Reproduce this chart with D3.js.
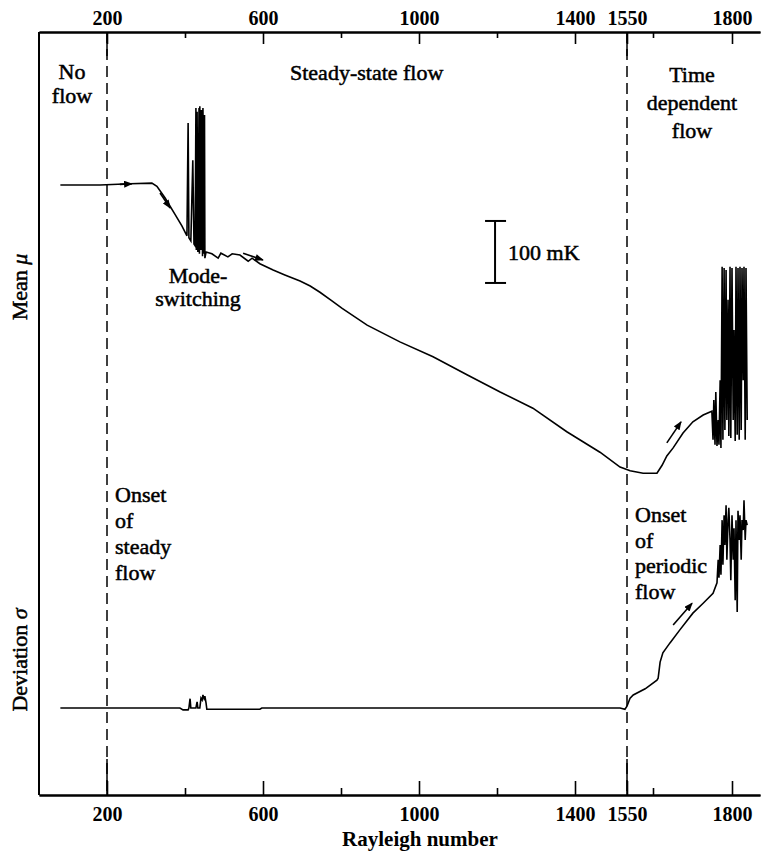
<!DOCTYPE html>
<html>
<head>
<meta charset="utf-8">
<script src="https://cdn.jsdelivr.net/npm/d3@7"></script>
<style>
body { margin: 0; background: #fff; }
text { font-family: "Liberation Serif", "DejaVu Serif", serif; fill: #000; }
</style>
</head>
<body>
<script>
var width = 766, height = 853;

// Rayleigh number ticks
var majorTicks = [200, 600, 1000, 1400, 1550, 1800];
var minorTicks = [400, 800, 1200, 1600];
var regimeBounds = [200, 1550];

// mean temperature mu (mK, relative to no-flow level)
var muRa = [80, 182, 259, 315, 328, 349, 374, 392, 405, 408, 410, 415, 420, 423, 426,
  428, 429, 431, 433, 436, 437, 438, 441, 442, 445, 446, 449, 450, 451, 454,
  469, 485, 492, 510, 521, 541, 562, 572, 592, 626, 656, 695, 721, 746, 775, 803, 867,
  951, 1036, 1123, 1208, 1292, 1379, 1472, 1530, 1556, 1581, 1610, 1623, 1635, 1651,
  1676, 1701, 1727, 1749,
  1752, 1754, 1757, 1759, 1762, 1765, 1767, 1770, 1772, 1775, 1777, 1780, 1782, 1785,
  1787, 1790, 1792, 1795, 1797, 1800, 1803, 1805, 1808, 1810, 1813, 1815, 1818, 1820,
  1823, 1825, 1828, 1830, 1833, 1835, 1838];
var muVal = [0, 0, 2, 3, -2, -21, -47, -66, -82, 100, -85, -90, 40, -95, -98,
  124, -105, 118, -108, 124, -111, 127, -105, 121, -115, 124, -111, 113, -118, -108,
  -111, -118, -110, -116, -111, -113, -123, -118, -127, -137, -145, -155, -163, -173, -186, -199, -226,
  -253, -277, -306, -334, -360, -398, -431, -455, -461, -465, -465, -452, -437, -424,
  -400, -382, -371, -365,
  -411, -347, -419, -334, -421, -379, -419, -315, -424, -132, -411, -134, -395, -137,
  -379, -185, -405, -132, -408, -134, -379, -234, -413, -132, -403, -134, -411, -132,
  -395, -134, -315, -132, -411, -134, -379];

// deviation sigma (mK)
var sdRa = [80, 387, 395, 408, 410, 413, 415, 428, 431, 433, 438, 441, 444, 446, 449, 451,
  454, 456, 592, 597, 1530, 1544, 1550, 1556, 1562, 1585, 1610, 1613, 1618, 1625, 1643,
  1668, 1701, 1727, 1752, 1762,
  1765, 1767, 1770, 1772, 1775, 1777, 1780, 1782, 1785, 1787, 1790, 1792, 1795, 1797,
  1800, 1803, 1805, 1808, 1810, 1813, 1815, 1818, 1820, 1823, 1825, 1828, 1830, 1833,
  1835, 1838];
var sdVal = [0, 0, -3, -3, 0, 15, 0, 0, 10, 0, 0, 16, 13, 21, 15, 19,
  8, -2, -2, 0, 0, -2, 3, 16, 21, 31, 45, 48, 74, 89, 105,
  126, 153, 169, 185, 202,
  239, 210, 263, 215, 303, 231, 311, 263, 327, 239, 303, 323, 271, 206,
  311, 239, 290, 174, 303, 155, 318, 271, 311, 239, 303, 287, 335, 271,
  303, 295];

// direction arrows [ra0, v0, ra1, v1]
var muArrows = [[233, 1, 264, 2], [336, -13, 362, -37], [549, -110, 600, -121], [1635, -416, 1671, -382]];
var sdArrows = [[1651, 134, 1699, 169]];

// 100 mK scale bar [ra, v0, v1]
var scaleBar = [1195, -158, -58];

var svg = d3.select("body").append("svg")
    .attr("width", width)
    .attr("height", height);

var x = d3.scaleLinear()
    .domain([25, 200, 1400, 1550, 1600, 1800, 1870])
    .range([39, 107, 575, 627, 653, 732, 760]);
var yMu = d3.scaleLinear().domain([-500, 250]).range([495, 30]);
var ySd = d3.scaleLinear().domain([0, 350]).range([708, 491]);

var yTop = 32, yBot = 795;

svg.append("defs").append("marker")
    .attr("id", "head")
    .attr("viewBox", "0 0 10 8")
    .attr("refX", 9).attr("refY", 4)
    .attr("markerWidth", 9).attr("markerHeight", 7)
    .attr("markerUnits", "userSpaceOnUse")
    .attr("orient", "auto")
  .append("path")
    .attr("d", "M0,0L10,4L0,8z")
    .attr("fill", "#000");

// axes
function styleAxis(g) {
    g.select(".domain").attr("stroke-width", 2);
    g.selectAll(".tick line").attr("stroke-width", 1.6);
    g.selectAll(".tick text")
        .style("font-family", "'Liberation Serif', serif")
        .style("font-size", "20px")
        .style("font-weight", "bold");
}

var fmt = d3.format("d");
svg.append("g").attr("transform", "translate(0," + yTop + ")")
    .call(d3.axisTop(x).tickValues(minorTicks).tickSize(-6).tickSizeOuter(0).tickFormat(""))
    .call(styleAxis);
svg.append("g").attr("transform", "translate(0," + yTop + ")")
    .call(d3.axisTop(x).tickValues(majorTicks).tickSize(-12).tickSizeOuter(0).tickPadding(7).tickFormat(fmt))
    .call(styleAxis);
svg.append("g").attr("transform", "translate(0," + yBot + ")")
    .call(d3.axisBottom(x).tickValues(minorTicks).tickSize(-7).tickSizeOuter(0).tickFormat(""))
    .call(styleAxis);
svg.append("g").attr("transform", "translate(0," + yBot + ")")
    .call(d3.axisBottom(x).tickValues(majorTicks).tickSize(-14).tickSizeOuter(0).tickPadding(12).tickFormat(fmt))
    .call(styleAxis);

svg.append("line")
    .attr("x1", x.range()[0]).attr("x2", x.range()[0])
    .attr("y1", yTop).attr("y2", yBot)
    .attr("stroke", "#000").attr("stroke-width", 2);

// regime boundaries
regimeBounds.forEach(function(r) {
    svg.append("line")
        .attr("x1", x(r)).attr("x2", x(r))
        .attr("y1", yTop).attr("y2", yBot)
        .attr("stroke", "#000").attr("stroke-width", 1.5)
        .attr("stroke-dasharray", "11,6");
    svg.append("line")
        .attr("x1", x(r)).attr("x2", x(r))
        .attr("y1", yTop).attr("y2", yTop + 24)
        .attr("stroke", "#000").attr("stroke-width", 1.5);
    svg.append("line")
        .attr("x1", x(r)).attr("x2", x(r))
        .attr("y1", yBot - 36).attr("y2", yBot)
        .attr("stroke", "#000").attr("stroke-width", 1.5);
});

// traces
var muData = d3.zip(muRa, muVal);
var sdData = d3.zip(sdRa, sdVal);

svg.append("path")
    .datum(muData)
    .attr("fill", "none").attr("stroke", "#000").attr("stroke-width", 1.6)
    .attr("d", d3.line().x(function(d) { return x(d[0]); }).y(function(d) { return yMu(d[1]); }));

svg.append("path")
    .datum(sdData)
    .attr("fill", "none").attr("stroke", "#000").attr("stroke-width", 1.6)
    .attr("d", d3.line().x(function(d) { return x(d[0]); }).y(function(d) { return ySd(d[1]); }));

function drawArrows(list, y) {
    list.forEach(function(a) {
        svg.append("line")
            .attr("x1", x(a[0])).attr("y1", y(a[1]))
            .attr("x2", x(a[2])).attr("y2", y(a[3]))
            .attr("stroke", "#000").attr("stroke-width", 1.6)
            .attr("marker-end", "url(#head)");
    });
}
drawArrows(muArrows, yMu);
drawArrows(sdArrows, ySd);

// scale bar
var bx = x(scaleBar[0]);
svg.append("line")
    .attr("x1", bx).attr("x2", bx)
    .attr("y1", yMu(scaleBar[1])).attr("y2", yMu(scaleBar[2]))
    .attr("stroke", "#000").attr("stroke-width", 2);
[scaleBar[1], scaleBar[2]].forEach(function(v) {
    svg.append("line")
        .attr("x1", bx - 10).attr("x2", bx + 11)
        .attr("y1", yMu(v)).attr("y2", yMu(v))
        .attr("stroke", "#000").attr("stroke-width", 2);
});
svg.append("text")
    .attr("x", bx + 13).attr("y", yMu((scaleBar[1] + scaleBar[2]) / 2) + 8)
    .style("font-size", "22px")
    .attr("stroke", "#000").attr("stroke-width", 0.5)
    .text("100 mK");

// annotations
function label(lines, px, py, dy, anchor) {
    var t = svg.append("text")
        .attr("text-anchor", anchor)
        .style("font-size", "22px")
        .attr("stroke", "#000").attr("stroke-width", 0.5);
    lines.forEach(function(s, i) {
        t.append("tspan").attr("x", px).attr("y", py + i * dy).text(s);
    });
}
label(["No", "flow"], 72, 79, 24, "middle");
label(["Steady-state flow"], 290, 80, 0, "start");
label(["Time", "dependent", "flow"], 692, 82, 28, "middle");
label(["Mode-", "switching"], 198, 283, 23, "middle");
label(["Onset", "of", "steady", "flow"], 115, 502, 26, "start");
label(["Onset", "of", "periodic", "flow"], 635, 522, 25.5, "start");

function yLabel(word, sym, cy) {
    var t = svg.append("text")
        .attr("transform", "translate(27," + cy + ") rotate(-90)")
        .attr("text-anchor", "middle")
        .style("font-size", "22px")
        .attr("stroke", "#000").attr("stroke-width", 0.5);
    t.append("tspan").text(word + " ");
    t.append("tspan").style("font-style", "italic").text(sym);
}
yLabel("Mean", "\u03bc", 287);
yLabel("Deviation", "\u03c3", 660);

svg.append("text")
    .attr("x", 420).attr("y", 846)
    .attr("text-anchor", "middle")
    .style("font-size", "21px")
    .style("font-weight", "bold")
    .text("Rayleigh number");
</script>
</body>
</html>
